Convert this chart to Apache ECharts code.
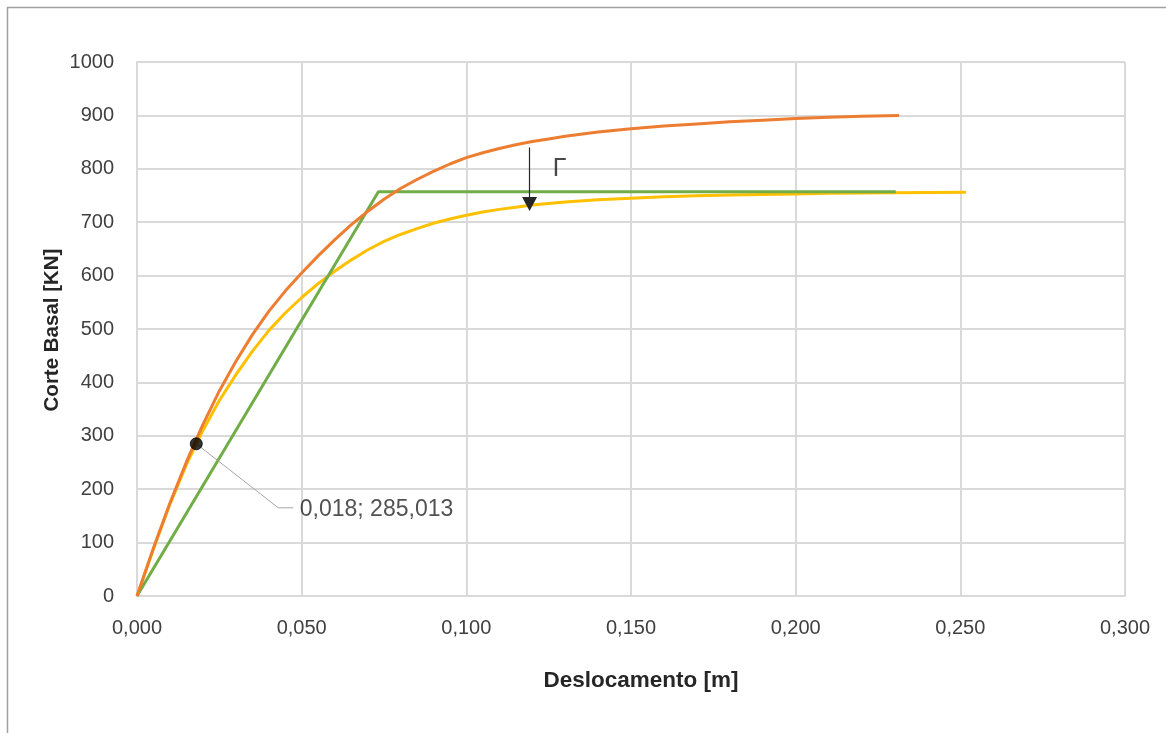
<!DOCTYPE html>
<html>
<head>
<meta charset="utf-8">
<title>Curva de capacidade</title>
<script src="https://cdn.jsdelivr.net/npm/echarts@6/dist/echarts.min.js"></script>
<style>
  html, body { margin: 0; padding: 0; background: #ffffff; }
  #chart { width: 1166px; height: 733px; }
</style>
</head>
<body>
<div id="chart"></div>
<script>
// Curva pushover (corte basal x deslocamento)
const pushoverCurve = [
  [0, 0], [0.005, 90], [0.010, 174], [0.015, 251], [0.020, 321], [0.025, 384],
  [0.030, 439], [0.035, 489], [0.040, 533], [0.045, 571], [0.050, 605], [0.055, 637],
  [0.060, 667], [0.065, 695], [0.070, 720], [0.075, 743], [0.080, 763], [0.085, 780],
  [0.090, 795], [0.095, 809], [0.100, 821], [0.105, 830], [0.110, 838], [0.115, 845],
  [0.120, 851], [0.125, 856], [0.130, 861], [0.140, 869], [0.150, 875], [0.160, 880],
  [0.170, 884], [0.180, 888], [0.190, 891], [0.200, 894], [0.210, 896.5], [0.220, 898.5],
  [0.2314, 900]
];

// Curva do sistema equivalente (dividida por Γ)
const equivalentCurve = [
  [0, 0], [0.005, 88], [0.010, 172], [0.015, 246], [0.020, 310], [0.025, 366],
  [0.030, 414], [0.035, 458], [0.040, 497], [0.045, 530], [0.050, 559], [0.055, 585],
  [0.060, 608], [0.065, 629], [0.070, 648], [0.075, 664], [0.080, 677], [0.085, 688],
  [0.090, 698], [0.095, 706], [0.100, 713], [0.105, 719], [0.110, 724], [0.115, 728],
  [0.120, 732], [0.125, 735], [0.130, 738], [0.140, 742], [0.150, 745], [0.160, 747.5],
  [0.170, 749.5], [0.180, 751], [0.190, 752], [0.200, 753], [0.210, 754], [0.220, 754.5],
  [0.230, 755], [0.240, 755.5], [0.2517, 756]
];

// Idealização bilinear
const bilinearCurve = [[0, 0], [0.0733, 757], [0.2304, 757]];

// Ponto destacado
const markedPoint = [0.018, 285.013];

// Seta de Γ e respectivo rótulo
const gammaArrow = [[0.1192, 840], [0.1192, 734]];
const gammaLabel = [0.1283, 800];

// Eixos
const xTickLabels = ['0,000', '0,050', '0,100', '0,150', '0,200', '0,250', '0,300'];
const yTickLabels = ['0', '100', '200', '300', '400', '500', '600', '700', '800', '900', '1000'];

const fmt = (v) => v.toFixed(3).replace('.', ',');

const chart = echarts.init(document.getElementById('chart'), null, { renderer: 'canvas' });

const FONT = 'Liberation Sans';
const GRID_COLOR = '#d9d9d9';

chart.setOption({
  animation: false,
  backgroundColor: '#ffffff',
  grid: { left: 137, right: 41, top: 62, bottom: 137, containLabel: false },
  xAxis: {
    type: 'value', min: 0, max: 0.3, interval: 0.05,
    axisLine: { show: true, lineStyle: { color: GRID_COLOR, width: 2 } },
    axisTick: { show: false },
    splitLine: { show: true, lineStyle: { color: GRID_COLOR, width: 2 } },
    axisLabel: {
      margin: 22, color: '#404040', fontFamily: FONT, fontSize: 20,
      formatter: (v, i) => xTickLabels[i]
    }
  },
  yAxis: {
    type: 'value', min: 0, max: 1000, interval: 100,
    axisLine: { show: true, lineStyle: { color: GRID_COLOR, width: 2 } },
    axisTick: { show: false },
    splitLine: { show: true, lineStyle: { color: GRID_COLOR, width: 2 } },
    axisLabel: {
      margin: 23, color: '#404040', fontFamily: FONT, fontSize: 20,
      formatter: (v, i) => yTickLabels[i]
    }
  },
  series: [
    {
      name: 'Sistema equivalente', type: 'line', data: equivalentCurve,
      showSymbol: false, symbol: 'none', z: 2,
      lineStyle: { color: '#FFC000', width: 3, join: 'round' }
    },
    {
      name: 'Bilinear', type: 'line', data: bilinearCurve,
      showSymbol: false, symbol: 'none', z: 3,
      lineStyle: { color: '#70AD47', width: 3 }
    },
    {
      name: 'Pushover', type: 'line', data: pushoverCurve,
      showSymbol: false, symbol: 'none', z: 4,
      lineStyle: { color: '#ED7D31', width: 3, join: 'round' }
    },
    {
      name: 'Ponto', type: 'scatter', data: [markedPoint], z: 6,
      symbol: 'circle', symbolSize: 12,
      itemStyle: { color: '#000000', borderColor: '#000000' },
      label: {
        show: true, position: 'right', distance: 0, offset: [97, 66],
        color: '#262626', fontFamily: FONT, fontSize: 23,
        formatter: (p) => fmt(p.value[0]) + '; ' + fmt(p.value[1])
      }
    },
    {
      name: 'Gamma', type: 'scatter', data: [gammaLabel], z: 6,
      symbolSize: 0,
      label: {
        show: true, position: 'inside', color: '#1a1a1a',
        fontFamily: FONT, fontSize: 25, formatter: 'Γ'
      },
      markLine: {
        silent: true, animation: false,
        symbol: ['none', 'triangle'], symbolSize: [15, 14],
        label: { show: false },
        lineStyle: { color: '#262626', width: 1.2, type: 'solid' },
        data: [[{ coord: gammaArrow[0] }, { coord: gammaArrow[1] }]]
      }
    }
  ],
  graphic: []
});

// Moldura da área do gráfico, linha de chamada e títulos dos eixos
const p = chart.convertToPixel({ gridIndex: 0 }, markedPoint);
chart.setOption({
  graphic: [
    {
      type: 'rect', silent: true, z: 0,
      shape: { x: 7.5, y: 7.5, width: 1200, height: 800 },
      style: { fill: null, stroke: '#a0a0a0', lineWidth: 1.5 }
    },
    {
      type: 'polyline', silent: true, z: 5,
      shape: { points: [[p[0], p[1]], [p[0] + 82, p[1] + 64], [p[0] + 97, p[1] + 64]] },
      style: { stroke: '#a6a6a6', lineWidth: 1, fill: null }
    },
    {
      type: 'text', silent: true,
      x: 641, y: 681,
      style: {
        text: 'Deslocamento [m]', fill: '#262626', font: 'bold 22.5px "Liberation Sans"',
        align: 'center', verticalAlign: 'middle'
      }
    },
    {
      type: 'text', silent: true,
      x: 52, y: 330, rotation: Math.PI / 2,
      style: {
        text: 'Corte Basal [KN]', fill: '#262626', font: 'bold 20.5px "Liberation Sans"',
        align: 'center', verticalAlign: 'middle'
      }
    }
  ]
});
</script>
</body>
</html>
